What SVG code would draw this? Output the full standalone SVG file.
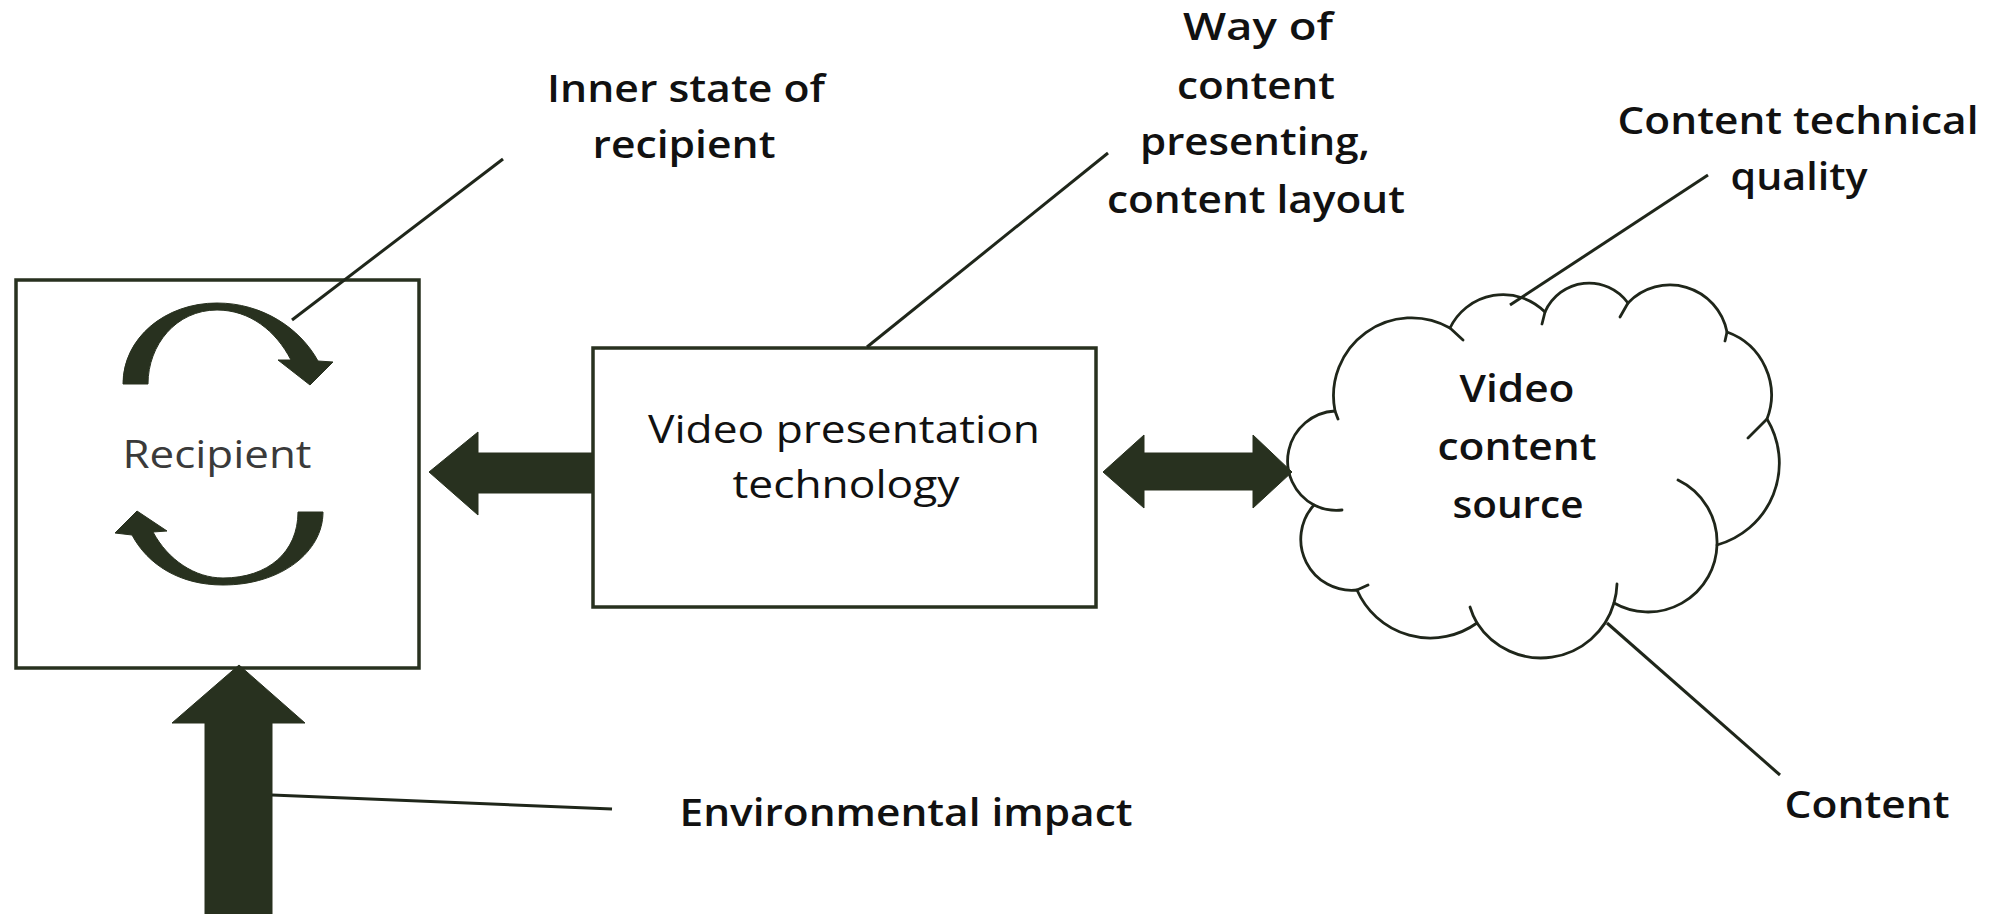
<svg xmlns="http://www.w3.org/2000/svg" width="1996" height="914" viewBox="0 0 1996 914">
  <style>
    .bg { fill: #ffffff; }
    .box { fill: #ffffff; stroke: #28311f; stroke-width: 3.5; }
    .cloud { fill: #ffffff; stroke: #1f261a; stroke-width: 2.8; stroke-linejoin: round; }
    .tick { fill: none; stroke: #1f261a; stroke-width: 2.8; stroke-linecap: round; }
    .solid { fill: #28311f; stroke: #28311f; stroke-width: 1; stroke-linejoin: miter; }
    .callout { fill: none; stroke: #1f261a; stroke-width: 3; stroke-linecap: butt; }
    .label { font-family: "Open Sans", "Noto Sans", sans-serif; font-size: 38px; font-weight: 600; fill: #111111; text-anchor: middle; }
    .plain { font-family: "Open Sans", "Noto Sans", sans-serif; font-size: 38px; font-weight: 500; fill: #111111; text-anchor: middle; }
    .soft { fill: #3a3a3a; font-weight: 400; }
  </style>

  <rect class="bg" x="0" y="0" width="1996" height="914"/>

  <!-- recipient with its inner-state cycle -->
  <g id="recipient">
    <rect class="box" x="16" y="280" width="403" height="388"/>
    <path class="solid" d="M123,384 C123,338 165,303 217,303 C262,303 300,328 318,361 L333,362 L310,385 L278,360 L291,360 C276,331 250,310 217,310 C176,310 148,345 148,384 Z"/>
    <path class="solid" d="M323,512 C323,552 281,585 223,585 C180,585 148,565 132,535 L115,533 L137,511 L167,531 L153,532 C168,560 195,578 223,578 C268,578 298,552 298,512 Z"/>
    <text class="plain soft" x="217" y="468" textLength="189" lengthAdjust="spacingAndGlyphs">Recipient</text>
  </g>

  <!-- video presentation technology -->
  <g id="presentation">
    <rect class="box" x="593" y="348" width="503" height="259"/>
    <text class="plain" x="844" y="443" textLength="392" lengthAdjust="spacingAndGlyphs">Video presentation</text>
    <text class="plain" x="846" y="498" textLength="227" lengthAdjust="spacingAndGlyphs">technology</text>
  </g>

  <!-- video content source (cloud) -->
  <g id="content-source">
    <path class="cloud" d="M1335,411 A78,78 0 0 1 1450,328 A59,59 0 0 1 1545,312 A48,48 0 0 1 1628,303 A58,58 0 0 1 1727,332 A67,67 0 0 1 1767,419 A85,85 0 0 1 1717,545 A69,69 0 0 1 1614,603 A76,76 0 0 1 1477,623 A80,80 0 0 1 1357,590 A51,51 0 0 1 1314,505 A50,50 0 0 1 1335,411 Z"/>
    <path class="tick" d="M1335,411 L1338,419 M1450,328 L1463,340 M1545,312 L1542,324 M1628,303 L1620,317 M1727,332 L1725,341 M1767,419 L1748,438 M1357,590 L1368,585"/>
    <path class="tick" d="M1678,480 A69,69 0 0 1 1717,545"/>
    <path class="tick" d="M1617,584 A76,76 0 0 1 1614,603"/>
    <path class="tick" d="M1477,623 A76,76 0 0 1 1470,607"/>
    <path class="tick" d="M1342,510 A50,50 0 0 1 1314,505"/>
    <text class="label" x="1517" y="402" textLength="115" lengthAdjust="spacingAndGlyphs">Video</text>
    <text class="label" x="1517" y="460" textLength="159" lengthAdjust="spacingAndGlyphs">content</text>
    <text class="label" x="1518" y="518" textLength="131" lengthAdjust="spacingAndGlyphs">source</text>
  </g>

  <!-- connectors: block arrows and callout leader lines -->
  <g id="connectors">
    <!-- presentation technology to recipient -->
    <polygon class="solid" points="429,472 478,432 478,453 593,453 593,493 478,493 478,515"/>
    <!-- two-way link between presentation technology and content source -->
    <polygon class="solid" points="1103,472 1144,435 1144,453 1253,453 1253,435 1292,472 1253,508 1253,490 1144,490 1144,508"/>
    <!-- environmental impact acting on the recipient -->
    <polygon class="solid" points="239,665 305,723 272,723 272,914 205,914 205,723 172,723"/>

    <!-- leader lines -->
    <line class="callout" x1="503" y1="159" x2="292" y2="320"/>
    <line class="callout" x1="1108" y1="153" x2="867" y2="347"/>
    <line class="callout" x1="1708" y1="175" x2="1510" y2="305"/>
    <line class="callout" x1="1607" y1="623" x2="1780" y2="775"/>
    <line class="callout" x1="272" y1="795" x2="612" y2="809"/>
  </g>

  <!-- callout labels -->
  <g id="label-inner-state">
    <text class="label" x="686" y="102" textLength="278" lengthAdjust="spacingAndGlyphs">Inner state of</text>
    <text class="label" x="684" y="158" textLength="183" lengthAdjust="spacingAndGlyphs">recipient</text>
  </g>
  <g id="label-way-of-presenting">
    <text class="label" x="1258" y="40" textLength="150" lengthAdjust="spacingAndGlyphs">Way of</text>
    <text class="label" x="1256" y="99" textLength="158" lengthAdjust="spacingAndGlyphs">content</text>
    <text class="label" x="1255" y="155" textLength="230" lengthAdjust="spacingAndGlyphs">presenting,</text>
    <text class="label" x="1256" y="213" textLength="298" lengthAdjust="spacingAndGlyphs">content layout</text>
  </g>
  <g id="label-technical-quality">
    <text class="label" x="1798" y="134" textLength="361" lengthAdjust="spacingAndGlyphs">Content technical</text>
    <text class="label" x="1799" y="190" textLength="137" lengthAdjust="spacingAndGlyphs">quality</text>
  </g>
  <g id="label-content">
    <text class="label" x="1867" y="818" textLength="165" lengthAdjust="spacingAndGlyphs">Content</text>
  </g>
  <g id="label-environment">
    <text class="label" x="906" y="826" textLength="453" lengthAdjust="spacingAndGlyphs">Environmental impact</text>
  </g>
</svg>
